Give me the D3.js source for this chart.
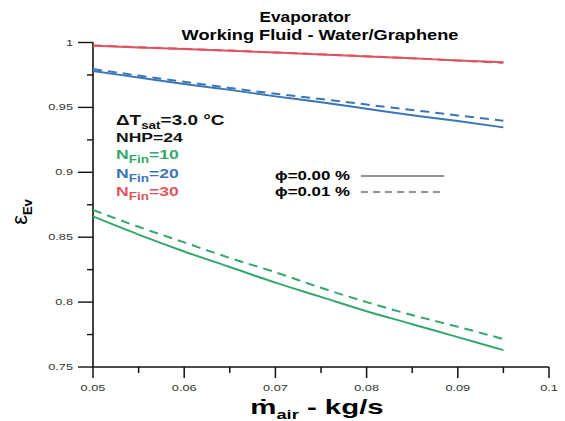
<!DOCTYPE html>
<html><head><meta charset="utf-8">
<script src="https://cdn.jsdelivr.net/npm/d3@7/dist/d3.min.js"></script>
<style>body{margin:0;background:#fff}svg{display:block}text{font-family:Arial,"Liberation Sans",sans-serif}</style>
</head><body>
<svg id="c" width="565" height="421"></svg>
<script>
const massFlow = [0.05,0.055,0.06,0.065,0.07,0.075,0.08,0.085,0.09,0.095];
const fin10_phi000 = [0.866,0.852,0.839,0.827,0.815,0.804,0.793,0.783,0.773,0.763];
const fin10_phi001 = [0.871,0.858,0.846,0.834,0.823,0.811,0.800,0.790,0.781,0.7715];
const fin20_phi000 = [0.978,0.973,0.968,0.9635,0.9585,0.954,0.949,0.944,0.9395,0.9346];
const fin20_phi001 = [0.9795,0.9745,0.9697,0.965,0.9605,0.9565,0.9522,0.948,0.9438,0.9397];
const fin30_phi000 = [0.9975,0.9962,0.995,0.9937,0.9922,0.9908,0.9893,0.9878,0.9862,0.9847];
const fin30_phi001 = [0.9978,0.9964,0.9951,0.9938,0.9923,0.9909,0.9894,0.9878,0.9861,0.9844];
const xTicks = [0.05,0.06,0.07,0.08,0.09,0.1];
const xTickLabels = ["0.05","0.06","0.07","0.08","0.09","0.1"];
const yTicks = [0.75,0.8,0.85,0.9,0.95,1];
const yTickLabels = ["0.75","0.8","0.85","0.9","0.95","1"];

const colors = {g:"#33a86a", b:"#3a76b6", r:"#dd5560"};
const series = [
  {v:fin10_phi000,c:colors.g,dash:null},
  {v:fin10_phi001,c:colors.g,dash:"9,6"},
  {v:fin20_phi000,c:colors.b,dash:null},
  {v:fin20_phi001,c:colors.b,dash:"9,6"},
  {v:fin30_phi000,c:colors.r,dash:null},
  {v:fin30_phi001,c:colors.r,dash:"9,6"}
];

const svg = d3.select("#c");
const x = d3.scaleLinear().domain([0.05,0.1]).range([93,549]);
const y = d3.scaleLinear().domain([0.75,1]).range([367,42.5]);

// horizontally stretched text helper
function stext(parent, px, py, sx){
  return parent.append("g").attr("transform",`translate(${px},${py}) scale(${sx},1)`).append("text").attr("x",0).attr("y",0);
}

// y axis
const yAx = svg.append("g").attr("transform","translate(93,0)");
yAx.append("line").attr("x1",0).attr("x2",0).attr("y1",y(1)).attr("y2",y(0.75)).attr("stroke","#111").attr("stroke-width",1.6);
yAx.selectAll(".ymaj").data(yTicks).join("line").attr("x1",-15).attr("x2",0)
  .attr("y1",d=>y(d)).attr("y2",d=>y(d)).attr("stroke","#111").attr("stroke-width",1.4);
yAx.selectAll(".ymin").data(d3.range(0.775,1,0.05)).join("line").attr("x1",-6).attr("x2",0)
  .attr("y1",d=>y(d)).attr("y2",d=>y(d)).attr("stroke","#111").attr("stroke-width",1.4);
yTicks.forEach((d,i)=>{
  stext(yAx,-20,y(d)+3,1.5).attr("text-anchor","end").attr("font-size",8.5).attr("fill","#333").text(yTickLabels[i]);
});

// x axis
const xAx = svg.append("g").attr("transform","translate(0,367)");
xAx.append("line").attr("x1",x(0.05)).attr("x2",x(0.1)).attr("y1",0).attr("y2",0).attr("stroke","#111").attr("stroke-width",1.6);
xAx.selectAll(".xmaj").data(xTicks).join("line").attr("x1",d=>x(d)).attr("x2",d=>x(d))
  .attr("y1",0).attr("y2",11).attr("stroke","#111").attr("stroke-width",1.5);
xAx.selectAll(".xmin").data(d3.range(0.055,0.1,0.01)).join("line").attr("x1",d=>x(d)).attr("x2",d=>x(d))
  .attr("y1",0).attr("y2",6).attr("stroke","#111").attr("stroke-width",1.5);
xTicks.forEach((d,i)=>{
  stext(xAx,x(d),24,1.5).attr("text-anchor","middle").attr("font-size",8.5).attr("fill","#333").text(xTickLabels[i]);
});

// lines
const line = d3.line().x((d,i)=>x(massFlow[i])).y(d=>y(d)).curve(d3.curveMonotoneX);
svg.selectAll(".s").data(series).join("path").attr("d",d=>line(d.v)).attr("fill","none")
  .attr("stroke",d=>d.c).attr("stroke-width",2).attr("stroke-dasharray",d=>d.dash);

// titles
stext(svg,305,22,1.15).attr("text-anchor","middle").attr("font-size",15).attr("font-weight","bold").text("Evaporator");
stext(svg,320,40,1.3).attr("text-anchor","middle").attr("font-size",14).attr("font-weight","bold").text("Working Fluid - Water/Graphene");

// x title
const xt = stext(svg,317,414,1.4).attr("text-anchor","middle").attr("font-size",21).attr("font-weight","bold");
xt.append("tspan").text("ṁ");
xt.append("tspan").attr("font-size",13).attr("dy",5).text("air");
xt.append("tspan").attr("dy",-5).text(" - kg/s");

// y title
const yt = svg.append("text").attr("transform","translate(27,212) rotate(-90)").attr("text-anchor","middle").attr("font-size",22);
yt.append("tspan").text("ε");
yt.append("tspan").attr("font-size",13).attr("font-weight","bold").attr("dy",5).text("Ev");

// annotations
const ann = [
  {t:"ΔT",s:"sat",r:"=3.0 °C",c:"#111",y:125},
  {t:"NHP=24",s:null,r:"",c:"#111",y:142},
  {t:"N",s:"Fin",r:"=10",c:colors.g,y:159},
  {t:"N",s:"Fin",r:"=20",c:colors.b,y:178},
  {t:"N",s:"Fin",r:"=30",c:colors.r,y:196}
];
ann.forEach(a=>{
  const t = stext(svg,116,a.y,1.35).attr("font-size",a.s==="sat"?14:13).attr("font-weight","bold").attr("fill",a.c);
  t.append("tspan").text(a.t);
  if(a.s){ t.append("tspan").attr("font-size",10).attr("dy",4).text(a.s); t.append("tspan").attr("dy",-4).text(a.r); }
});

// phi legend
const leg = [{t:"ϕ=0.00 %",dash:null,y:180},{t:"ϕ=0.01 %",dash:"7,5",y:196}];
leg.forEach(l=>{
  stext(svg,275,l.y,1.35).attr("font-size",12.5).attr("font-weight","bold").text(l.t);
  svg.append("line").attr("x1",361).attr("x2",444).attr("y1",l.y-4).attr("y2",l.y-4).attr("stroke","#222").attr("stroke-width",1.2).attr("stroke-dasharray",l.dash);
});
</script>
</body></html>
